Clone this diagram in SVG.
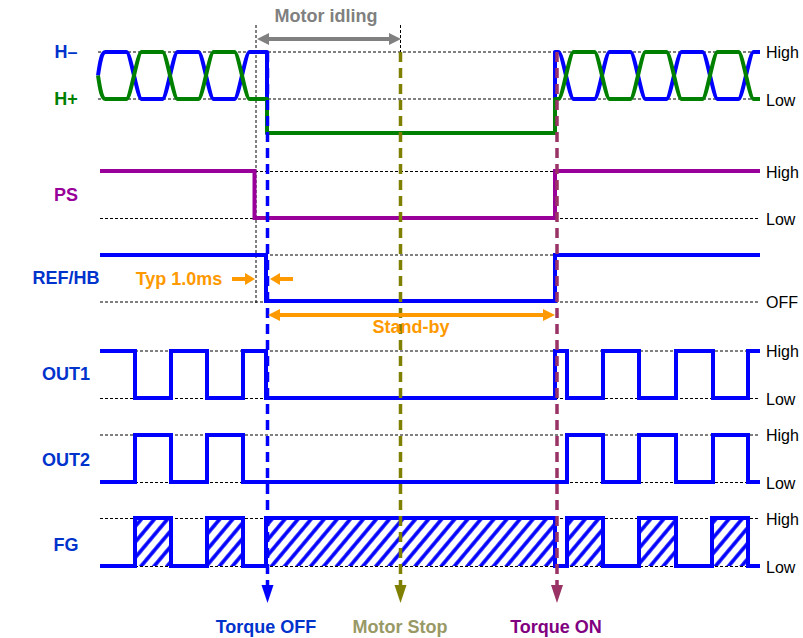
<svg xmlns="http://www.w3.org/2000/svg" width="803" height="638" viewBox="0 0 803 638">
<style>
.dot{fill:none;stroke:#000;stroke-width:1;stroke-dasharray:3 2}
.sig{fill:none;stroke-width:4;stroke-linejoin:round}
.lbl{font-family:"Liberation Sans",Arial,sans-serif;font-weight:bold;font-size:18px;text-anchor:middle}
.lvl{font-family:"Liberation Sans",Arial,sans-serif;font-size:16px;fill:#000}
.vd{fill:none;stroke-width:3.5;stroke-dasharray:10 6}
</style>
<defs>
<pattern id="hatch" patternUnits="userSpaceOnUse" width="10" height="10" patternTransform="rotate(40)">
<rect width="10" height="10" fill="#fff"/>
<line x1="2" y1="0" x2="2" y2="10" stroke="#0000FF" stroke-width="3.6"/>
</pattern>
</defs>
<rect width="803" height="638" fill="#fff"/>

<g id="gridlines">
<path class="dot" d="M98,52H760M98,99H760M100,171.5H760M100,218.5H760M100,255H760M100,302H760M100,351H760M100,398.5H760M100,435H760M100,482.5H760M100,518.5H760M100,566.5H760"/>
<path class="dot" d="M256,25V303M400.5,25V52"/>
</g>

<g id="hall">
<path class="sig" stroke="#0000FF" d="M98,75.5 C100,62 101.5,52 105.5,52 H126.5 C130.5,52 137.5,99 141.5,99 H162.5 C166.5,99 173.5,52 177.5,52 H198.5 C202.5,52 209.5,99 213.5,99 H234.5 C238.5,99 245.5,52 249.5,52 H267 V133 H555 V52 H558.5 C562.5,52 569.5,99 573.5,99 H594.5 C598.5,99 605.5,52 609.5,52 H630.5 C634.5,52 641.5,99 645.5,99 H666.5 C670.5,99 677.5,52 681.5,52 H702.5 C706.5,52 713.5,99 717.5,99 H738.5 C742.5,99 749.5,52 753.5,52 H760"/>
<path class="sig" stroke="#008000" d="M98,75.5 C100,89 101.5,99 105.5,99 H126.5 C130.5,99 137.5,52 141.5,52 H162.5 C166.5,52 173.5,99 177.5,99 H198.5 C202.5,99 209.5,52 213.5,52 H234.5 C238.5,52 245.5,99 249.5,99 H267 V133 H555 V99 H558.5 C562.5,99 569.5,52 573.5,52 H594.5 C598.5,52 605.5,99 609.5,99 H630.5 C634.5,99 641.5,52 645.5,52 H666.5 C670.5,52 677.5,99 681.5,99 H702.5 C706.5,99 713.5,52 717.5,52 H738.5 C742.5,52 749.5,99 753.5,99 H760"/>
</g>

<g id="ps">
<path class="sig" stroke="#990099" style="stroke-linejoin:miter" d="M100,171 H254.5 V218 H555 V171 H760"/>
</g>

<g id="refhb">
<path class="sig" stroke="#0000FF" style="stroke-linejoin:miter" d="M100,255 H266 V301 H555 V255 H760"/>
</g>

<g id="out1">
<path class="sig" stroke="#0000FF" style="stroke-linejoin:miter" d="M100,351 H135 V398 H171 V351 H207 V398 H243 V351 H266 V398 H555 V351 H567 V398 H603 V351 H639 V398 H676 V351 H713 V398 H748 V351 H760"/>
</g>

<g id="out2">
<path class="sig" stroke="#0000FF" style="stroke-linejoin:miter" d="M100,482 H135 V435 H171 V482 H207 V435 H243 V482 H567 V435 H603 V482 H639 V435 H676 V482 H713 V435 H748 V482 H760"/>
</g>

<g id="fg">
<path fill="url(#hatch)" d="M135,518H171V566H135zM207,518H243V566H207zM266,518H555V566H266zM567,518H603V566H567zM639,518H676V566H639zM712,518H748V566H712z"/>
<path class="sig" stroke="#0000FF" style="stroke-linejoin:miter" d="M100,566 H135 V518 H171 V566 H207 V518 H243 V566 H266 V518 H555 V566 H567 V518 H603 V566 H639 V518 H676 V566 H712 V518 H748 V566 H760"/>
</g>

<g id="connectors">
<line class="vd" stroke="#0000FF" x1="267.5" y1="52" x2="267.5" y2="586"/>
<polygon fill="#0000FF" points="267.5,603 261.5,585 273.5,585"/>
<line class="vd" stroke="#808000" x1="400.5" y1="52" x2="400.5" y2="586"/>
<polygon fill="#808000" points="400.5,603 394.5,585 406.5,585"/>
<line class="vd" stroke="#993366" x1="557" y1="52" x2="557" y2="586"/>
<polygon fill="#993366" points="557,603 551,585 563,585"/>

<line x1="267" y1="39" x2="390" y2="39" stroke="#808080" stroke-width="4"/>
<polygon fill="#808080" points="257,39 269,33 269,45"/>
<polygon fill="#808080" points="401,39 389,33 389,45"/>

<line x1="232" y1="279" x2="247" y2="279" stroke="#FF9900" stroke-width="4"/>
<polygon fill="#FF9900" points="255,279 245,273 245,285"/>
<line x1="293" y1="279" x2="278" y2="279" stroke="#FF9900" stroke-width="4"/>
<polygon fill="#FF9900" points="270,279 280,273 280,285"/>

<line x1="278" y1="315" x2="545" y2="315" stroke="#FF9900" stroke-width="4"/>
<polygon fill="#FF9900" points="268,315 280,309 280,321"/>
<polygon fill="#FF9900" points="555,315 543,309 543,321"/>
</g>

<g id="labels">
<text class="lbl" x="66" y="58" fill="#0033CC">H–</text>
<text class="lbl" x="66" y="105" fill="#008000">H+</text>
<text class="lbl" x="66" y="201" fill="#990099">PS</text>
<text class="lbl" x="66" y="284" fill="#0033CC">REF/HB</text>
<text class="lbl" x="66" y="380" fill="#0033CC">OUT1</text>
<text class="lbl" x="66" y="466" fill="#0033CC">OUT2</text>
<text class="lbl" x="66" y="551" fill="#0033CC">FG</text>

<text class="lbl" x="326" y="22" fill="#808080">Motor idling</text>
<text class="lbl" x="179" y="285" fill="#FF9900">Typ 1.0ms</text>
<text class="lbl" x="411" y="333" fill="#FF9900">Stand-by</text>

<text class="lbl" x="266" y="633" fill="#0033CC">Torque OFF</text>
<text class="lbl" x="400" y="633" fill="#999966">Motor Stop</text>
<text class="lbl" x="556" y="633" fill="#800080">Torque ON</text>

<text class="lvl" x="766" y="58">High</text>
<text class="lvl" x="766" y="106">Low</text>
<text class="lvl" x="766" y="178">High</text>
<text class="lvl" x="766" y="225">Low</text>
<text class="lvl" x="766" y="308">OFF</text>
<text class="lvl" x="766" y="357">High</text>
<text class="lvl" x="766" y="405">Low</text>
<text class="lvl" x="766" y="441">High</text>
<text class="lvl" x="766" y="489">Low</text>
<text class="lvl" x="766" y="525">High</text>
<text class="lvl" x="766" y="573">Low</text>
</g>
</svg>
